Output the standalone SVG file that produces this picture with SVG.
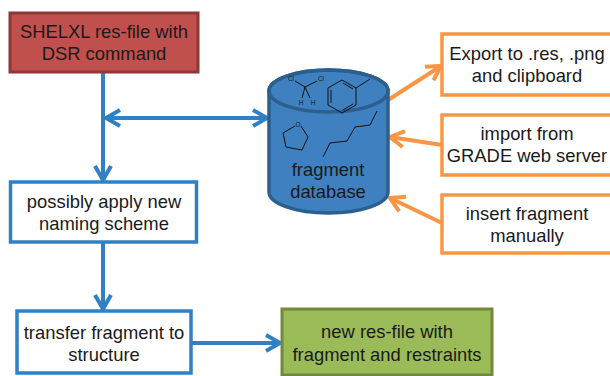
<svg xmlns="http://www.w3.org/2000/svg" width="610" height="376" viewBox="0 0 610 376">
<style>
text{font-family:"Liberation Sans",Arial,sans-serif;font-size:18.4px;fill:#1a1a1a;text-anchor:middle}
.blue{fill:#fff;stroke:#2F80C4;stroke-width:3.5}
.orange{fill:#fff;stroke:#F79646;stroke-width:3.5}
.bl{stroke:#2F80C4;stroke-width:4;fill:none}
.or{stroke:#F79646;stroke-width:4;fill:none}
.mol{stroke:#111;stroke-width:1;fill:none}
text.sm{font-size:6.5px}
</style>
<defs>
<marker id="ab" viewBox="-16 -10 20 20" refX="0" refY="0" markerWidth="20" markerHeight="20" markerUnits="userSpaceOnUse" orient="auto-start-reverse">
<path d="M-14,-8 L0,0 L-14,8" fill="none" stroke="#2F80C4" stroke-width="4" stroke-linejoin="miter"/>
</marker>
<marker id="ao" viewBox="-16 -10 20 20" refX="0" refY="0" markerWidth="20" markerHeight="20" markerUnits="userSpaceOnUse" orient="auto">
<path d="M-14,-8 L0,0 L-14,8" fill="none" stroke="#F79646" stroke-width="4"/>
</marker>
</defs>
<rect width="610" height="376" fill="#fff"/>
<g id="connectors">
<line class="bl" x1="103" y1="72" x2="103" y2="180" marker-end="url(#ab)"/>
<line class="bl" x1="106" y1="118" x2="267" y2="118" marker-start="url(#ab)" marker-end="url(#ab)"/>
<line class="bl" x1="103" y1="242" x2="103" y2="309" marker-end="url(#ab)"/>
<line class="bl" x1="191" y1="343" x2="280" y2="343" marker-end="url(#ab)"/>
<line class="or" x1="388" y1="100" x2="441" y2="66" marker-end="url(#ao)"/>
<line class="or" x1="442" y1="145" x2="390" y2="137" marker-end="url(#ao)"/>
<line class="or" x1="442" y1="223" x2="390" y2="198" marker-end="url(#ao)"/>
</g>
<g id="shelxl">
<rect x="10" y="13" width="188" height="59" fill="#C0504D" stroke="#8C3836" stroke-width="3"/>
<text x="104" y="38">SHELXL res-file with</text>
<text x="104" y="60">DSR command</text>
</g>
<g id="naming">
<rect class="blue" x="10.5" y="182" width="186" height="60"/>
<text x="104" y="208">possibly apply new</text>
<text x="104" y="230">naming scheme</text>
</g>
<g id="transfer">
<rect class="blue" x="17" y="311" width="174" height="62"/>
<text x="104" y="339">transfer fragment to</text>
<text x="104" y="361">structure</text>
</g>
<g id="newres">
<rect x="282" y="309" width="210" height="66" fill="#9BBB59" stroke="#71893F" stroke-width="3"/>
<text x="387" y="338">new res-file with</text>
<text x="387" y="361">fragment and restraints</text>
</g>
<g id="database">
<path d="M269,91 A59.5,21 0 0 1 388,91 V192 A59.5,21 0 0 1 269,192 Z" fill="#3F80C0" stroke="#2B5F8E" stroke-width="3.5"/>
<ellipse cx="328.5" cy="91" rx="59.5" ry="21" fill="none" stroke="#2B5F8E" stroke-width="3.5"/>
<text class="sm" x="291" y="81">Cl</text>
<text class="sm" x="321" y="81">Cl</text>
<text class="sm" x="301" y="105">H</text>
<text class="sm" x="313" y="105">H</text>
<path class="mol" d="M295,81 L305,87 L317,81 M305,87 L302,98 M305,87 L310,98"/>
<path class="mol" d="M342,80 L356,88 L356,105 L342,113 L328,105 L328,88 Z M356,88 L370,79 M331,90 L331,103 M343,83 L353,89 M353,104 L343,110"/>
<text class="sm" x="298" y="127">O</text>
<path class="mol" d="M295,126 L283,133 L286,147 L302,150 L308,137 L301,126"/>
<path class="mol" d="M323,157 L330,143 L347,141 L355,127 L370,125 L377,111"/>
<text x="328" y="176">fragment</text>
<text x="328" y="198">database</text>
</g>
<g id="export">
<rect class="orange" x="442" y="34" width="180" height="61"/>
<text x="527" y="60">Export to .res, .png</text>
<text x="527" y="82">and clipboard</text>
</g>
<g id="import">
<rect class="orange" x="442" y="115" width="180" height="60"/>
<text x="527" y="140">import from</text>
<text x="527" y="162">GRADE web server</text>
</g>
<g id="insert">
<rect class="orange" x="442" y="195" width="180" height="58"/>
<text x="527" y="220">insert fragment</text>
<text x="527" y="242">manually</text>
</g>
</svg>
